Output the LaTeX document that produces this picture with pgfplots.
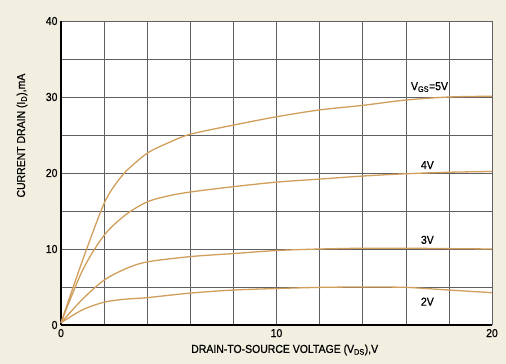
\documentclass[border=0pt]{standalone}
\usepackage{pgfplots}
\pgfplotsset{compat=1.18}
\usepackage{fontspec}
\setmainfont[FakeStretch=0.91, FakeBold=0.8]{Liberation Sans}
\definecolor{bgcream}{RGB}{242,238,224}
\definecolor{curve}{RGB}{210,158,92}
\definecolor{gridc}{RGB}{95,95,100}
\begin{document}
\begin{tikzpicture}
\fill[bgcream] (-61pt,-39pt) rectangle (445pt,325pt);
\useasboundingbox (-61pt,-39pt) rectangle (445pt,325pt);
\begin{axis}[
  scale only axis,
  width=431pt, height=304pt,
  xmin=0, xmax=20, ymin=0, ymax=40,
  xtick={0,10,20}, minor xtick={2,4,6,8,12,14,16,18},
  ytick={0,10,20,30,40}, minor ytick={5,15,25,35},
  grid=both,
  major grid style={gridc, line width=0.5pt},
  minor grid style={gridc, line width=0.5pt},
  major tick length=0pt, minor tick length=0pt,
  axis x line*=bottom, axis y line*=left,
  axis line style={black, line width=1.3pt, -},
  axis background/.style={fill=white},
  /pgf/number format/assume math mode=true,
  tick label style={font=\fontsize{11.5}{13}\selectfont},
  xticklabel style={yshift=-0.5pt},
  xlabel={DRAIN-TO-SOURCE VOLTAGE (V\textsubscript{DS}),V},
  ylabel={CURRENT DRAIN (I\textsubscript{D}),mA},
  label style={font=\fontsize{11.5}{13}\selectfont},
  xlabel style={at={(axis description cs:0.519,-0.082)}, anchor=center},
  ylabel style={at={(axis description cs:-0.0905,0.623)}, anchor=center},
  clip=false,
]
\addplot[curve, line width=1.3pt, smooth] coordinates {
 (0,0.3) (1,8.5) (2,16) (2.65,19) (3,20.2) (4,22.6) (5,24) (6,25.1) (8,26.3) (10,27.4) (12,28.3) (14,28.9) (16,29.6) (18,30) (20,30.1)};
\addplot[curve, line width=1.3pt, smooth] coordinates {
 (0,0.3) (1,7.2) (2,11.8) (3,14.5) (4,16.2) (5,17) (6,17.5) (8,18.2) (10,18.8) (12,19.2) (14,19.6) (16,19.9) (18,20.1) (20,20.2)};
\addplot[curve, line width=1.3pt, smooth] coordinates {
 (0,0.3) (1,3.4) (2,5.9) (3,7.4) (4,8.3) (6,9.0) (8,9.4) (10,9.8) (12,10.0) (14,10.1) (16,10.1) (18,10.05) (20,10.0)};
\addplot[curve, line width=1.3pt, smooth] coordinates {
 (0,0.3) (1,2.0) (2,3.0) (3,3.4) (4,3.6) (6,4.2) (8,4.6) (10,4.8) (12,4.95) (14,5.0) (16,4.95) (18,4.6) (20,4.25)};
\node[font=\fontsize{11.5}{13}\selectfont] at (axis cs:17.1,31.3) {V\textsubscript{GS}=5V};
\node[font=\fontsize{11.5}{13}\selectfont] at (axis cs:17.0,21.05) {4V};
\node[font=\fontsize{11.5}{13}\selectfont] at (axis cs:17.0,11.2) {3V};
\node[font=\fontsize{11.5}{13}\selectfont] at (axis cs:17.0,3.07) {2V};
\end{axis}
\end{tikzpicture}
\end{document}
